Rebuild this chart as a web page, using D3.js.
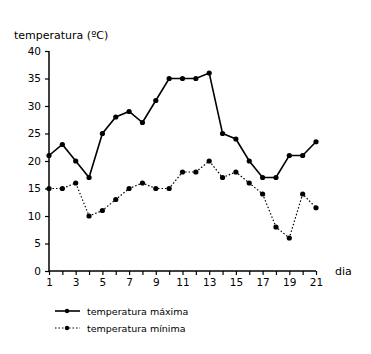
<!DOCTYPE html>
<html><head><meta charset="utf-8">
<script src="https://cdn.jsdelivr.net/npm/d3@7"></script>
<style>body{margin:0;background:#fff}svg{display:block}text{font-family:"DejaVu Sans",Verdana,sans-serif}</style>
</head><body>
<svg id="c" width="371" height="354"></svg>
<script>
const days = d3.range(1, 22);
const tMax = [21,23,20,17,25,28,29,27,31,35,35,35,36,25,24,20,17,17,21,21,23.5];
const tMin = [15,15,16,10,11,13,15,16,15,15,18,18,20,17,18,16,14,8,6,14,11.5];
const yTicks = [0,5,10,15,20,25,30,35,40];
const xLabels = [1,3,5,7,9,11,13,15,17,19,21];
const seriesNames = ["temperatura máxima","temperatura mínima"];

const svg = d3.select("#c");
const x = d3.scaleLinear().domain([1,21]).range([49,316]);
const y = d3.scaleLinear().domain([0,40]).range([271,51]);

const fs = 10.5;
const gy = svg.append("g").attr("transform","translate(49,0)")
  .call(d3.axisLeft(y).tickValues(yTicks).tickSize(4).tickPadding(4));
const gx = svg.append("g").attr("transform","translate(0,271)")
  .call(d3.axisBottom(x).tickValues(days).tickSize(4).tickPadding(4)
    .tickFormat(d => xLabels.includes(d) ? d : ""));
[gx, gy].forEach(g => {
  g.select(".domain").attr("stroke","#000").attr("stroke-width",1.5);
  g.selectAll(".tick line").attr("stroke","#000").attr("stroke-width",1.2);
  g.selectAll("text").attr("font-family","DejaVu Sans, Verdana, sans-serif").attr("font-size",fs).attr("fill","#000");
});
gx.select(".domain").attr("d","M49,0H316");
gy.select(".domain").attr("d","M0,271V51");

svg.append("text").attr("x",14).attr("y",39).attr("font-size",11).text("temperatura (ºC)");
svg.append("text").attr("x",335).attr("y",275).attr("font-size",11).text("dia");

const line = d3.line().x((d,i)=>x(days[i])).y(d=>y(d));
svg.append("path").datum(tMax).attr("d",line).attr("fill","none").attr("stroke","#000").attr("stroke-width",1.6);
svg.append("path").datum(tMin).attr("d",line).attr("fill","none").attr("stroke","#000").attr("stroke-width",1.2).attr("stroke-dasharray","1.5,2");
[tMax,tMin].forEach(s => {
  svg.append("g").selectAll("circle").data(s).join("circle")
    .attr("cx",(d,i)=>x(days[i])).attr("cy",d=>y(d)).attr("r",2.6).attr("fill","#000");
});

// legend
const leg = svg.append("g");
[0,1].forEach(i => {
  const ly = 311 + i*17;
  leg.append("line").attr("x1",55).attr("x2",80).attr("y1",ly).attr("y2",ly)
    .attr("stroke","#000").attr("stroke-width", i===0?1.6:1.2).attr("stroke-dasharray", i===0?null:"1.5,2");
  leg.append("circle").attr("cx",67).attr("cy",ly).attr("r",2.2).attr("fill","#000");
  leg.append("text").attr("x",87).attr("y",ly+3.5).attr("font-size",9.5).text(seriesNames[i]);
});
</script>
</body></html>
